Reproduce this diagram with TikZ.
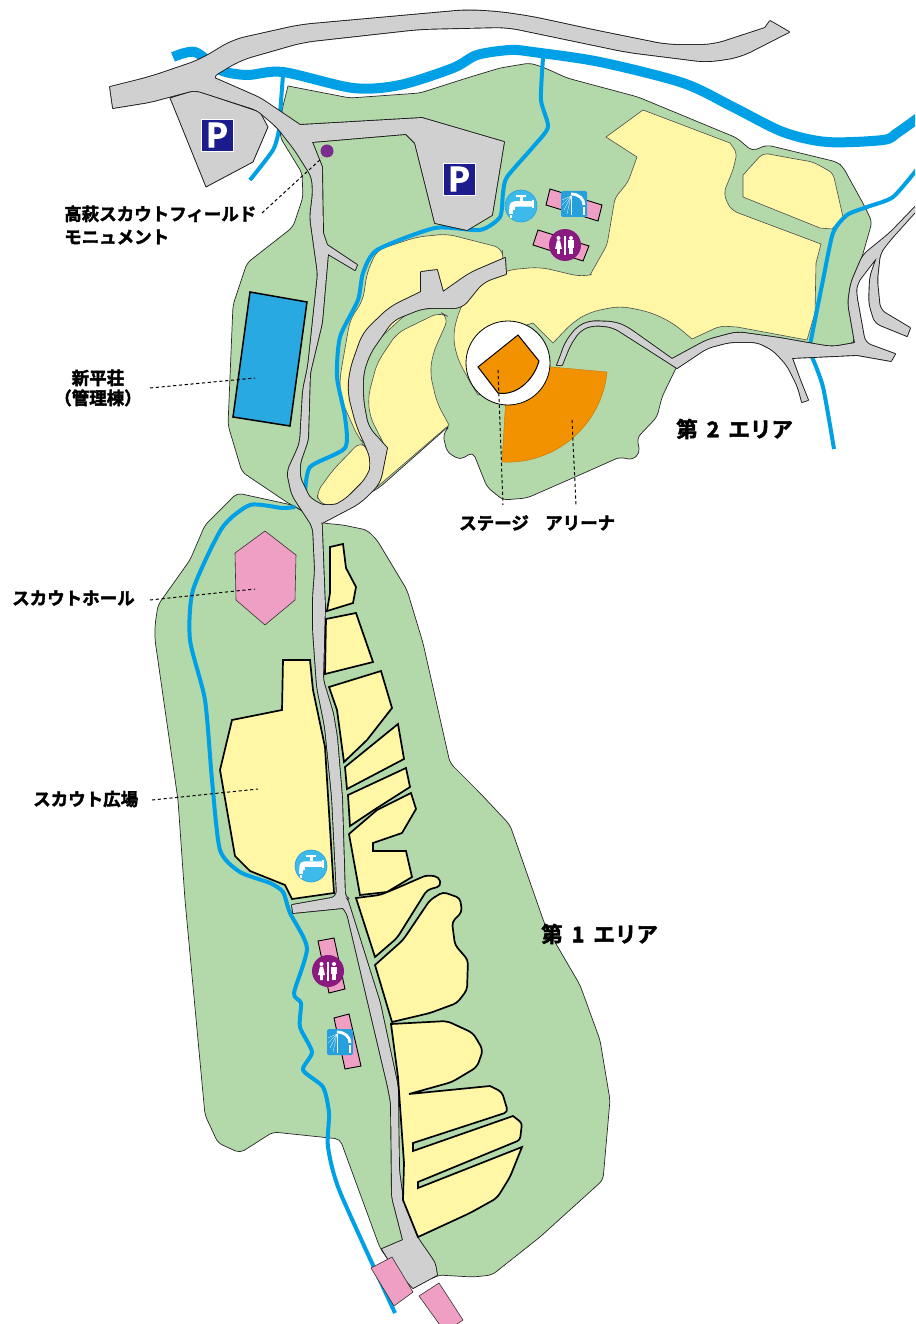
\documentclass[tikz,border=0pt]{standalone}
\usepackage{fontspec}
\setmainfont{Noto Sans CJK JP}[BoldFont=* Bold,BoldFeatures={FakeBold=2.2}]
\definecolor{gr}{HTML}{B3D9AB}
\definecolor{ye}{HTML}{FFF7A5}
\definecolor{rd}{HTML}{D0D0D0}
\definecolor{rv}{HTML}{00A0E6}
\definecolor{pk}{HTML}{F09FC4}
\definecolor{og}{HTML}{F39200}
\definecolor{bl}{HTML}{29A9E1}
\definecolor{nv}{HTML}{1C1C8C}
\definecolor{tp}{HTML}{3EBAEA}
\definecolor{pu}{HTML}{8A1A80}
\definecolor{sh}{HTML}{25A0DD}
\tikzset{
 zone/.style={fill=gr,draw=black!85,line width=.7pt,rounded corners=5pt},
 softy/.style={fill=ye,draw=black!70,line width=.6pt,rounded corners=5pt},
 plotz/.style={fill=ye,draw=black,line width=1.7pt,line join=miter},
 plotr/.style={plotz,rounded corners=4pt},
 roadline/.style={draw=black!90,line width=1.8pt,rounded corners=4pt,line join=round},
 roadfill/.style={fill=rd,rounded corners=4pt},
 bigriver/.style={draw=rv,line width=10pt,line join=round},
 river/.style={draw=rv,line width=4pt,line join=round},
 iconbar/.style={fill=pk,draw=black,line width=.9pt},
 bldg/.style={fill=pk,draw=black!80,line width=.6pt},
 leader/.style={draw=black,line width=1pt,dash pattern=on 3.2pt off 2.6pt},
 lab/.style={font=\fontsize{17.5}{20}\selectfont\bfseries,inner sep=0pt,align=center},
 arealab/.style={font=\fontsize{21.5}{24}\selectfont\bfseries,inner sep=0pt},
 psign/.pic={\fill[nv,draw=white,line width=.5pt] (-16,-16) rectangle (16,16);
   \node[font=\fontsize{33}{33}\selectfont\bfseries,text=white,inner sep=0pt] at (0,0) {P};},
 tapicon/.pic={\fill[tp,draw=sh,line width=.6pt] (0,0) circle (16);
   \draw[white,line width=2.6pt] (-5,-10) -- (5,-10);
   \draw[white,line width=3pt] (0,-10) -- (0,-5);
   \draw[white,line width=5.5pt,rounded corners=3pt] (11,-2) -- (-9,-2) -- (-9,4);
   \fill[white] (11,-6) rectangle (13,2);
   \draw[white,line width=4pt] (-10,3) -- (-10,8);
   \draw[white,line width=2pt] (-10,9) -- (-10,12);},
 wcicon/.pic={\fill[pu] (0,0) circle (16);
   \fill[white] (-6.5,-7) circle (2);
   \fill[white] (-8,-4.5) -- (-5,-4.5) -- (-3,4) -- (-5.2,4) -- (-5.2,9) -- (-7.8,9) -- (-7.8,4) -- (-10,4) -- cycle;
   \draw[white,line width=1.2pt] (0,-9) -- (0,10);
   \fill[white] (6,-7) circle (2);
   \fill[white] (3,-4.5) rectangle (9,3);
   \fill[white] (4,2) rectangle (8,9);},
 showericon/.pic={\fill[sh,rounded corners=1.5pt] (-13,-13) rectangle (13,13);
   \draw[white,line width=2.8pt] (-3,-10) .. controls (5,-10) and (10,-5) .. (10,1);
   \draw[white,line width=2.4pt] (10,3) -- (10,11);
   \foreach \a/\b in {-12/-4,-12/1,-10/6,-7/10,-3/11}
     \draw[white,line width=.3pt] (-3,-8) -- (\a,\b);},
}
\def\roadT{(212,77) [rounded corners=12pt] -- (240,60) -- (303,42) -- (420,29) -- (507,27) -- (627,52) -- (707,62) -- (740,57) [sharp corners] -- (789,32) -- (770,21) -- (765,28) [rounded corners=12pt] -- (713,45) -- (667,45) -- (593,30) -- (533,17) -- (500,12) -- (467,10) -- (300,25) -- (233,40) -- (200,60) -- (150,77) [sharp corners] -- (110,87) -- (113,108) [rounded corners=6pt] -- (150,102) -- (195,90) -- (257,110) -- (300,140) -- cycle}
\def\roadM{(257,110) [rounded corners=6pt] -- (277,127) -- (295,150) -- (312,177) -- (313,193) -- (310,217) -- (317,267) -- (318,273) -- (308,367) -- (303,390) -- (300,443) -- (297,450) -- (287,472) -- (292,495) -- (313,527) -- (315,570) -- (313,597) -- (313,630) -- (317,687) -- (322,712) -- (325,727) -- (332,797) -- (337,897) [sharp corners] -- (292,905) -- (293,913) -- (343,908) [rounded corners=4pt] -- (347,913) -- (388,1087) -- (391,1103) -- (392,1197) [sharp corners] -- (403,1240) -- (382,1249) -- (392,1265) -- (413,1288) -- (437,1275) [rounded corners=4pt] -- (435,1263) -- (417,1237) -- (403,1200) -- (399,1170) -- (398,1087) -- (380,1003) -- (347,898) -- (345,897) -- (342,797) -- (337,737) -- (333,713) -- (323,680) -- (325,607) -- (322,530) -- (322,523) -- (300,478) -- (300,463) -- (308,440) -- (310,373) -- (322,323) [sharp corners] -- (328,254) -- (355,270) -- (357,265) -- (327,245) -- (323,233) -- (322,167) -- (312,142) -- (406,134) -- (415,143) -- (435,223) -- (467,230) -- (492,215) -- (504,142) -- (422,118) -- (300,125) [rounded corners=6pt] -- (260,98) -- (212,77) -- cycle}
\def\roadL{(505,258) [rounded corners=8pt] -- (470,273) [sharp corners] -- (443,292) -- (437,270) -- (421,272) -- (421,292) [rounded corners=10pt] -- (390,307) -- (363,333) -- (350,370) -- (348,393) -- (357,427) -- (367,448) -- (372,463) -- (368,477) -- (343,502) -- (330,507) -- (315,503) -- (303,490) -- (300,478) -- (290,490) [sharp corners] -- (322,523) [rounded corners=8pt] -- (360,503) -- (380,483) [sharp corners] -- (387,448) [rounded corners=8pt] -- (368,427) -- (363,400) -- (363,373) -- (370,353) -- (393,320) -- (423,308) -- (462,308) -- (483,282) [sharp corners] -- (506,274) -- cycle}
\def\roadE{(557,365) [rounded corners=7pt] -- (560,358) -- (565,343) -- (577,327) -- (590,321) -- (615,322) -- (627,327) [sharp corners] -- (672,359) [rounded corners=7pt] -- (707,340) -- (737,332) -- (780,338) -- (808,343) -- (832,347) [sharp corners] -- (855,343) [rounded corners=6pt] -- (848,303) -- (851,283) -- (863,255) -- (890,233) [sharp corners] -- (917,205) -- (917,210) [rounded corners=6pt] -- (890,240) -- (880,253) -- (877,280) -- (880,310) [sharp corners] -- (910,328) -- (907,336) [rounded corners=6pt] -- (875,323) -- (869,303) -- (870,277) [sharp corners] -- (877,257) [rounded corners=6pt] -- (857,283) -- (856,293) -- (865,343) [sharp corners] -- (895,354) -- (891,361) -- (857,355) -- (792,358) [rounded corners=6pt] -- (800,380) [sharp corners] -- (808,400) -- (802,402) [rounded corners=6pt] -- (798,387) -- (787,365) -- (773,350) -- (757,342) -- (730,342) -- (707,348) [sharp corners] -- (677,368) [rounded corners=7pt] -- (613,327) -- (593,325) -- (580,330) -- (570,345) [sharp corners] -- (562,365) -- cycle}
\begin{document}
\begin{tikzpicture}[x=1pt,y=-1pt]
\useasboundingbox (0,0) rectangle (915,1324);
\begin{scope}
\clip (0,0) rectangle (915,1324);
% ---- green zones
\path[zone] (288,86) -- (350,98) -- (420,93) -- (467,78) -- (500,68) -- (530,63) -- (545,68) -- (567,78) -- (638,97) -- (737,138) -- (752,151) -- (767,145) -- (837,162) -- (843,167) -- (865,207) -- (872,222) -- (862,257) -- (851,283) -- (848,302) -- (855,343) -- (832,347) -- (810,345) -- (757,338) -- (707,344) -- (677,366) -- (662,397) -- (657,417) -- (637,438) -- (640,453) -- (632,460) -- (620,457) -- (575,477) -- (527,498) -- (503,500) -- (487,487) -- (473,452) -- (460,460) -- (447,452) -- (443,435) -- (450,425) -- (380,487) -- (350,505) -- (320,520) -- (288,503) -- (242,472) -- (228,425) -- (233,305) -- (247,263) -- (293,227) -- (303,197) -- (302,173) -- (280,137) -- (282,110) [sharp corners] -- cycle;
\path[zone] (237,493) -- (292,505) -- (322,523) -- (343,525) -- (367,530) -- (377,540) -- (407,590) -- (423,643) -- (450,763) -- (480,793) -- (510,825) -- (545,925) -- (580,985) -- (600,1040) -- (610,1100) -- (603,1180) -- (540,1237) -- (492,1275) -- (473,1277) -- (438,1275) -- (430,1280) -- (392,1265) -- (380,1248) -- (340,1139) -- (273,1132) -- (240,1153) -- (218,1143) -- (205,1115) -- (198,1040) -- (185,900) -- (178,800) -- (155,640) -- (155,625) -- (158,605) -- (190,560) -- (205,525) -- cycle;
% ---- soft yellow zones
\path[softy] (643,110) [sharp corners] -- (730,143) [rounded corners=5pt] -- (737,153) -- (733,170) -- (724,192) -- (727,203) -- (733,211) [sharp corners] -- (821,244) -- (816,263) -- (815,313) -- (807,340) -- (737,327) [rounded corners=6pt] -- (720,326) [sharp corners] -- (692,339) [rounded corners=10pt] -- (673,323) -- (650,312) -- (620,306) -- (590,312) -- (573,322) [sharp corners] -- (553,343) -- (533,323) -- (510,330) -- (490,390) -- (478,395) [rounded corners=10pt] -- (467,377) -- (456,355) -- (453,333) -- (460,308) -- (472,288) -- (507,270) -- (540,267) -- (582,277) [sharp corners] -- (590,275) [rounded corners=4pt] -- (607,245) -- (615,198) -- (628,182) [sharp corners] -- (637,157) -- (606,137) -- cycle;
\path[softy] (763,153) -- (790,158) -- (813,162) -- (833,173) [sharp corners] -- (843,217) -- (832,229) -- (820,228) -- (743,197) -- (743,175) [rounded corners=5pt] -- cycle;
\path[softy,rounded corners=8pt] (503,258) -- (502,248) -- (447,234) -- (417,237) -- (377,250) -- (367,273) -- (363,300) -- (350,320) -- (340,377) -- (340,397) -- (358,437) -- (365,445) -- (356,400) -- (360,370) -- (378,340) -- (405,315) -- (430,300) -- (455,298) -- (475,275) -- (503,268) -- cycle;
\path[softy,rounded corners=7pt] (360,442) -- (333,470) -- (317,492) -- (318,502) -- (330,506) -- (343,502) -- (368,477) -- (372,463) -- (367,448) -- cycle;
\path[softy,rounded corners=9pt] (449,317) -- (440,312) -- (397,333) -- (377,363) -- (368,397) -- (370,417) -- (387,450) [sharp corners] -- (377,487) -- (449,425) [rounded corners=9pt] -- (437,403) -- (430,373) -- (433,353) -- cycle;
% ---- arena sector, stage disc
\fill[og,draw=og!80!black,line width=.4pt] (607,372) .. controls (602,425) and (555.5,465) .. (502,462) -- (508,363) -- cycle;
\path[draw=black,fill=white,line width=.8pt] (508,363) circle (42);
\path[fill=og,draw=black,line width=1pt] (478,367) -- (518,335) -- (539,361) .. controls (533,382) and (515,396) .. (498,393) -- cycle;
% ---- rivers
\draw[bigriver] plot[smooth,tension=.5] coordinates {(173,57) (195,52) (220,70) (247,75) (283,72) (353,88) (400,85) (453,68) (477,55) (510,50) (533,52) (600,62) (683,83) (733,107) (783,132) (827,142) (883,140) (897,133) (918,118)};
\draw[river] plot[smooth,tension=.4] coordinates {(283,75) (280,115) (279,130) (273,150) (250,180)};
\draw[river] plot[smooth,tension=.4] coordinates {(543,58) (541,100) (548,127) (533,147) (507,177) (503,193) (500,217) (480,230) (435,228) (377,250) (363,273) (358,300) (340,337) (337,377) (345,417) (345,448) (310,467) (305,495)};
\draw[river] plot[smooth,tension=.4] coordinates {(295,507) (282,508) (250,505) (222,528) (193,590) (190,640) (205,700) (212,780) (220,850) (240,872) (270,883) (283,892) (290,913) (307,948) (294,993) (301,1003) (300,1027) (312,1052) (303,1070) (323,1087) (329,1113) (328,1147) (340,1192) (395,1313)};
\draw[river] plot[smooth,tension=.4] coordinates {(918,168) (893,197) (867,207) (847,215) (833,233) (823,280) (810,345)};
\draw[river] plot[smooth,tension=.4] coordinates {(812,357) (823,387) (834,449)};
% ---- parking west and roads (outlines first, then fills to melt the overlaps)
\path[draw=black!90,fill=rd,line width=.8pt] (170,98) -- (206,187) -- (253,162) -- (268,127) -- (260,112) -- (195,90) -- cycle;
\path[roadline] \roadT;
\path[roadline] \roadM;
\path[roadline] \roadL;
\path[roadline] \roadE;
\path[roadfill] \roadT;
\path[roadfill] \roadM;
\path[roadfill] \roadL;
\path[roadfill] \roadE;
% ---- black-outlined plots
\path[plotz] (330,547) -- (343,544) -- (346,568) -- (356,587) -- (353,603) -- (327,611) -- (330,593) -- cycle;
\path[plotz] (326,619) -- (356,613) -- (373,662) -- (325,674) -- cycle;
\path[plotz] (329,687) -- (381,671) -- (392,708) -- (367,740) -- (344,762) -- (337,710) -- cycle;
\path[plotz] (345,767) -- (398,724) -- (404,759) -- (347,789) -- cycle;
\path[plotz] (348,795) -- (406,768) -- (410,787) -- (377,808) -- (350,826) -- cycle;
\path[plotz] (349,834) -- (377,810) -- (411,793) -- (416,809) -- (402,833) -- (373,843) -- (373,851) -- (406,851) -- (412,877) -- (387,892) -- (360,895) -- cycle;
\path[plotz] (356,898) [rounded corners=4pt] -- (380,895) -- (397,888) -- (427,875) -- (439,877) -- (441,886) -- (427,890) -- (397,938) [sharp corners] -- (375,957) -- cycle;
\path[plotz] (375,965) [rounded corners=4pt] -- (403,940) -- (430,900) -- (443,892) -- (460,898) -- (462,912) -- (452,922) -- (455,945) -- (468,960) -- (467,990) -- (457,1003) -- (430,1013) [sharp corners] -- (392,1022) -- cycle;
\path[plotz] (391,1024) [rounded corners=5pt] -- (447,1021) -- (473,1033) -- (483,1050) -- (477,1067) -- (452,1082) [sharp corners] -- (409,1094) -- (490,1086) [rounded corners=4pt] -- (502,1092) -- (508,1112) [sharp corners] -- (413,1143) -- (413,1151) -- (513,1116) [rounded corners=3pt] -- (522,1123) -- (520,1140) [sharp corners] -- (418,1182) -- (418,1188) -- (522,1147) [rounded corners=5pt] -- (510,1177) -- (497,1198) -- (470,1213) [sharp corners] -- (418,1237) -- (403,1200) -- (404,1163) -- (398,1077) -- cycle;
\path[plotz] (283,660) -- (310,660) -- (313,690) -- (325,747) -- (334,893) -- (292,899) -- (285,885) -- (250,871) -- (235,856) -- (220,770) -- (232,720) -- (282,710) -- cycle;
% ---- buildings
\path[fill=bl,draw=black,line width=1.5pt] (250,292) -- (307,302) -- (290,426) -- (233,417) -- cycle;
\path[bldg] (265,531) -- (296,555) -- (295,600) -- (265,625) -- (236,600) -- (235,553) -- cycle;
\path[bldg] (371,1268) -- (392,1257) -- (413,1292) -- (394,1306) -- cycle;
\path[bldg] (419,1296) -- (439,1283) -- (463,1320) -- (445,1332) -- cycle;
\path[iconbar] (550,189) -- (602,205) -- (598,221) -- (546,205) -- cycle;
\path[iconbar] (538,230) -- (589,246) -- (583,261) -- (533,245) -- cycle;
\path[iconbar] (318,941) -- (334,938) -- (345,989) -- (329,993) -- cycle;
\path[iconbar] (334,1018) -- (349,1014) -- (361,1066) -- (345,1069) -- cycle;
\end{scope}
% ---- icons
\pic at (217,135) {psign};
\pic at (459,179) {psign};
\pic at (521,206) {tapicon};
\pic at (311,866) {tapicon};
\pic at (565,245) {wcicon};
\pic at (328,971) {wcicon};
\pic at (574,204) {showericon};
\pic at (340,1042) {showericon};
\node[circle,fill={rgb,255:red,123;green,45;blue,142},minimum size=13pt,inner sep=0pt] (monument) at (327,151) {};
% ---- labels
\node[lab,anchor=west] (lmon) at (64,225) {\parbox[c]{210pt}{\raggedright\baselineskip=23pt 高萩スカウトフィールド\\モニュメント}};
\node[lab] (lshin) at (98,388) {\baselineskip=23pt 新平荘\\（管理棟）};
\node[lab,anchor=west] (lhall) at (12,598) {スカウトホール};
\node[lab,anchor=west] (lsq) at (33,799) {スカウト広場};
\node[lab,anchor=west] (lstage) at (459,523) {ステージ};
\node[lab,anchor=west] (larena) at (545,523) {アリーナ};
\node[arealab,anchor=west] (a2) at (676,429) {\spaceskip=9pt\relax 第 2 エリア};
\node[arealab,anchor=west] (a1) at (541,934) {\spaceskip=9pt\relax 第 1 エリア};
% ---- leaders
\coordinate (m1) at (262,213);
\coordinate (m2) at (322,158);
\coordinate (s1) at (150,388);
\coordinate (s2) at (255,378);
\coordinate (h1) at (150,600);
\coordinate (h2) at (255,589);
\coordinate (q1) at (152,800);
\coordinate (q2) at (258,789);
\coordinate (t1) at (498,370);
\coordinate (t2) at (503,505);
\coordinate (r1) at (572,420);
\coordinate (r2) at (576,505);
\draw[leader] (m1) -- (m2);
\draw[leader] (s1) -- (s2);
\draw[leader] (h1) -- (h2);
\draw[leader] (q1) -- (q2);
\draw[leader] (t1) -- (t2);
\draw[leader] (r1) -- (r2);
\end{tikzpicture}
\end{document}
